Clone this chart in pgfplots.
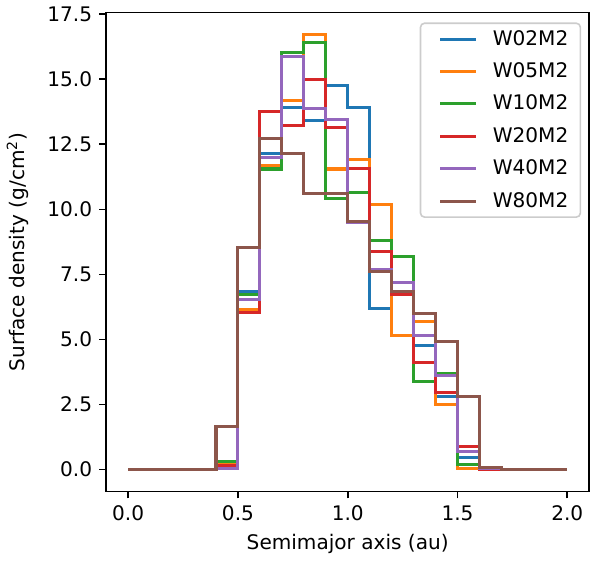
\documentclass[border=0pt]{standalone}
\usepackage{fontspec}
\setmainfont{DejaVu Sans}
\usepackage{pgfplots}
\usepackage{pgfplotstable}
\pgfplotsset{compat=1.18}
\definecolor{c0}{HTML}{1F77B4}
\definecolor{c1}{HTML}{FF7F0E}
\definecolor{c2}{HTML}{2CA02C}
\definecolor{c3}{HTML}{D62728}
\definecolor{c4}{HTML}{9467BD}
\definecolor{c5}{HTML}{8C564B}
\pgfplotstableread{
x    A     B     C     D     E     F
0.0  0     0     0     0     0     0
0.1  0     0     0     0     0     0
0.2  0     0     0     0     0     0
0.3  0     0     0     0     0     0
0.4  0.15  0.20  0.32  0.14  0.04  1.65
0.5  6.83  6.17  6.72  6.04  6.55  8.52
0.6  12.15 11.70 11.55 13.76 12.00 12.73
0.7  13.93 14.17 16.02 13.24 15.87 12.13
0.8  13.40 16.73 16.42 14.99 13.86 10.59
0.9  14.76 11.55 10.40 13.13 13.47 10.59
1.0  13.93 11.93 10.65 11.58 9.50  9.54
1.1  6.19  10.20 8.80  8.38  7.70  7.63
1.2  6.80  5.17  8.18  6.73  7.19  6.85
1.3  4.78  5.70  3.37  4.12  5.17  6.00
1.4  2.79  2.51  3.69  2.98  3.60  4.92
1.5  0.46  0.04  0.20  0.88  0.68  2.81
1.6  0     0     0     0     0.04  0.07
1.7  0     0     0     0     0     0
1.8  0     0     0     0     0     0
1.9  0     0     0     0     0     0
2.0  0     0     0     0     0     0
}\datatable
\begin{document}
\begin{tikzpicture}
\begin{axis}[
  scale only axis,
  width=240.5pt, height=238.5pt,
  xmin=-0.1, xmax=2.1,
  ymin=-0.8365, ymax=17.567,
  axis line style={line width=0.8pt},
  tick style={black, line width=0.8pt},
  major tick length=3.5pt,
  tick align=outside,
  xtick pos=left, ytick pos=left,
  xtick={0,0.5,1,1.5,2},
  ytick={0,2.5,5,7.5,10,12.5,15,17.5},
  /pgf/number format/assume math mode=true,
  /pgf/number format/.cd, fixed, fixed zerofill, precision=1, /pgfplots/.cd,
  tick label style={font=\fontsize{10}{12}\selectfont},
  label style={font=\fontsize{10}{12}\selectfont},
  xlabel={Semimajor axis (au)},
  ylabel={Surface density (g/cm\textsuperscript{2})},
  ylabel shift=2.5pt,
  every axis plot/.append style={line width=1.5pt, const plot mark left, no marks},
  legend cell align=left,
  legend style={at={(1,1)}, anchor=north east, xshift=-4pt, yshift=-5pt,
    draw={rgb,255:red,204;green,204;blue,204}, line width=0.8pt, rounded corners=2pt,
    fill=white, fill opacity=0.8, text opacity=1, font=\fontsize{10}{12}\selectfont,
    row sep=3.2pt, inner xsep=4pt, inner ysep=1.5pt},
  legend image code/.code={\path (-3pt,0pt); \draw[#1] (2pt,0pt) -- (20pt,0pt); \path (25.5pt,0pt);},
]
\addplot[c0] table[x=x,y=A] {\datatable};
\addlegendentry{W02M2}
\addplot[c1] table[x=x,y=B] {\datatable};
\addlegendentry{W05M2}
\addplot[c2] table[x=x,y=C] {\datatable};
\addlegendentry{W10M2}
\addplot[c3] table[x=x,y=D] {\datatable};
\addlegendentry{W20M2}
\addplot[c4] table[x=x,y=E] {\datatable};
\addlegendentry{W40M2}
\addplot[c5] table[x=x,y=F] {\datatable};
\addlegendentry{W80M2}
\end{axis}
\end{tikzpicture}
\end{document}
